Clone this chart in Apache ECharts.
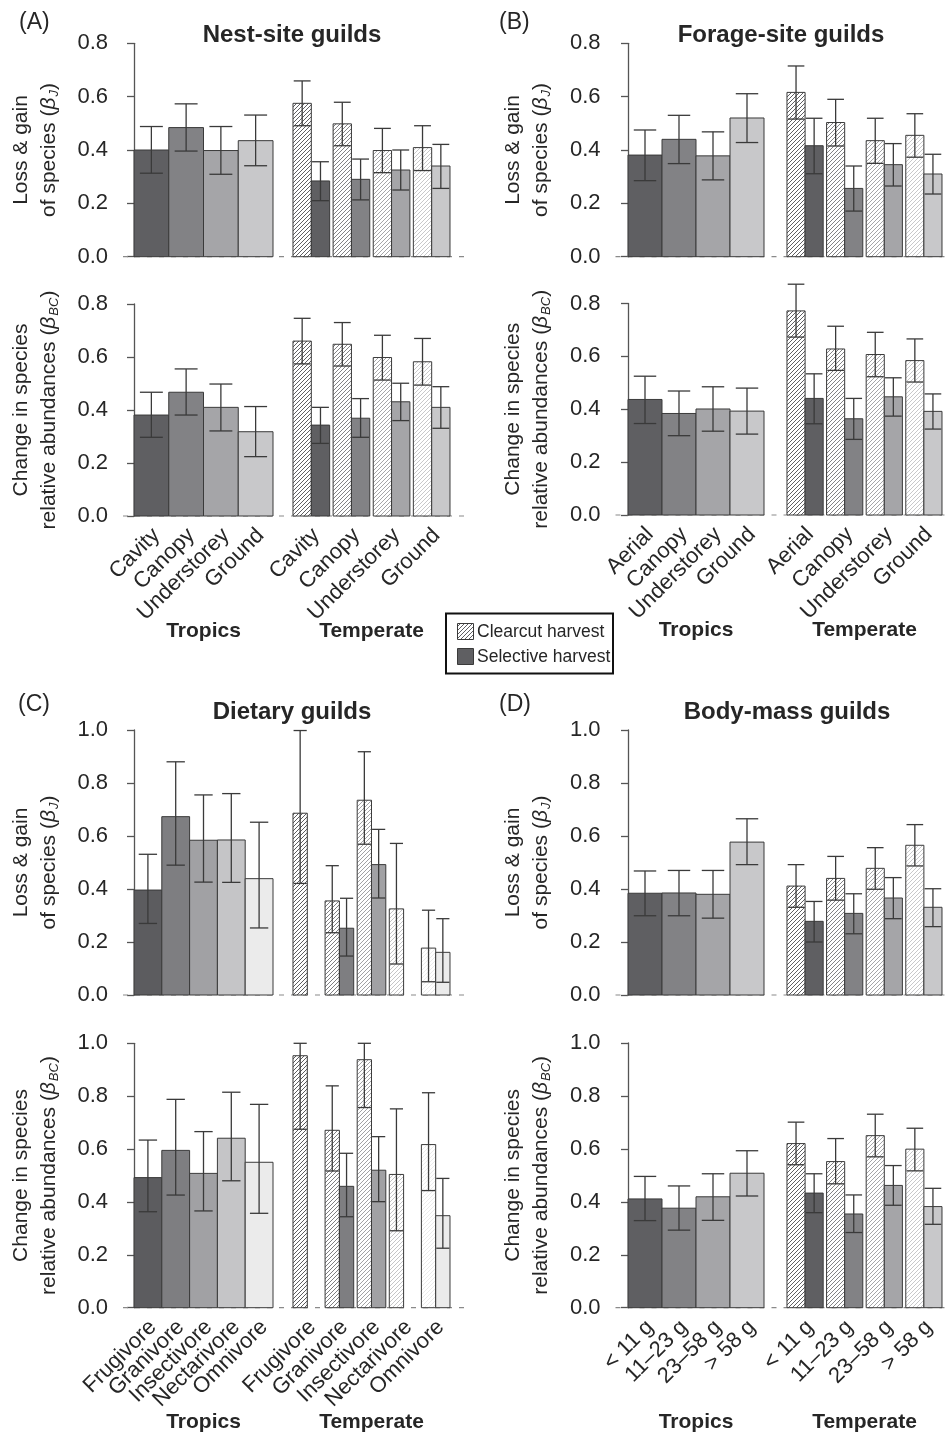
<!DOCTYPE html>
<html><head><meta charset="utf-8">
<script src="https://cdn.jsdelivr.net/npm/echarts@6/dist/echarts.min.js"></script>
<style>html,body{margin:0;padding:0;background:#fff}#c{width:947px;height:1439px}</style>
</head><body><div id="c"></div>
<script>
// ---------------- categories ----------------
const nestCats = ['Cavity', 'Canopy', 'Understorey', 'Ground'];
const forageCats = ['Aerial', 'Canopy', 'Understorey', 'Ground'];
const dietCats = ['Frugivore', 'Granivore', 'Insectivore', 'Nectarivore', 'Omnivore'];
const massCats = ['< 11 g', '11–23 g', '23–58 g', '> 58 g'];
const groupLabels = ['Tropics', 'Temperate'];
const legendLabels = ['Clearcut harvest', 'Selective harvest'];

// ---------------- values: [mean, lower, upper] ----------------
// (A) Nest-site guilds
const nestJTrop   = [[0.400,0.313,0.488],[0.484,0.396,0.573],[0.398,0.309,0.488],[0.435,0.341,0.531]];
const nestJClear  = [[0.575,0.491,0.659],[0.498,0.416,0.579],[0.398,0.315,0.481],[0.409,0.323,0.491]];
const nestJSel    = [[0.284,0.210,0.356],[0.290,0.213,0.366],[0.325,0.250,0.400],[0.340,0.256,0.421]];
const nestBCTrop  = [[0.381,0.297,0.467],[0.467,0.381,0.555],[0.410,0.321,0.498],[0.318,0.224,0.413]];
const nestBCClear = [[0.660,0.574,0.746],[0.648,0.566,0.730],[0.598,0.513,0.682],[0.582,0.494,0.670]];
const nestBCSel   = [[0.343,0.274,0.410],[0.369,0.297,0.443],[0.431,0.360,0.501],[0.410,0.331,0.488]];
// (B) Forage-site guilds
const forJTrop    = [[0.381,0.285,0.475],[0.440,0.349,0.530],[0.378,0.288,0.468],[0.520,0.428,0.611]];
const forJClear   = [[0.616,0.516,0.715],[0.503,0.415,0.590],[0.435,0.350,0.519],[0.455,0.373,0.536]];
const forJSel     = [[0.416,0.311,0.519],[0.256,0.171,0.340],[0.345,0.265,0.424],[0.310,0.235,0.384]];
const forBCTrop   = [[0.437,0.346,0.525],[0.384,0.300,0.469],[0.401,0.317,0.485],[0.393,0.306,0.480]];
const forBCClear  = [[0.772,0.673,0.873],[0.628,0.547,0.714],[0.607,0.523,0.691],[0.584,0.503,0.666]];
const forBCSel    = [[0.441,0.345,0.534],[0.364,0.286,0.441],[0.447,0.374,0.519],[0.392,0.325,0.458]];
// (C) Dietary guilds
const dietJTrop   = [[0.396,0.270,0.531],[0.673,0.490,0.880],[0.584,0.426,0.755],[0.585,0.425,0.760],[0.439,0.253,0.652]];
const dietJClear  = [[0.686,0.421,0.998],[0.355,0.235,0.488],[0.735,0.569,0.918],[0.325,0.117,0.572],[0.177,0.050,0.320]];
const dietJSel    = [null,[0.252,0.147,0.365],[0.492,0.366,0.625],null,[0.161,0.048,0.288]];
const dietBCTrop  = [[0.492,0.363,0.634],[0.595,0.426,0.788],[0.508,0.366,0.666],[0.641,0.480,0.815],[0.550,0.357,0.769]];
const dietBCClear = [[0.953,0.675,1.000],[0.671,0.517,0.839],[0.938,0.757,1.000],[0.504,0.291,0.752],[0.617,0.443,0.813]];
const dietBCSel   = [null,[0.459,0.344,0.584],[0.520,0.401,0.647],null,[0.348,0.225,0.489]];
// (D) Body-mass guilds
const massJTrop   = [[0.384,0.299,0.468],[0.385,0.299,0.470],[0.380,0.290,0.470],[0.577,0.492,0.665]];
const massJClear  = [[0.411,0.331,0.492],[0.440,0.358,0.523],[0.478,0.399,0.556],[0.565,0.487,0.643]];
const massJSel    = [[0.278,0.200,0.353],[0.308,0.231,0.382],[0.366,0.288,0.443],[0.331,0.258,0.401]];
const massBCTrop  = [[0.411,0.329,0.496],[0.376,0.293,0.460],[0.419,0.330,0.506],[0.508,0.422,0.593]];
const massBCClear = [[0.620,0.540,0.701],[0.552,0.468,0.639],[0.650,0.570,0.731],[0.599,0.517,0.678]];
const massBCSel   = [[0.433,0.359,0.506],[0.354,0.284,0.426],[0.462,0.387,0.537],[0.382,0.315,0.451]];

// ---------------- styles ----------------
const shades4 = ['#5f5f62', '#828285', '#a5a5a8', '#c8c8ca'];
const shades5 = ['#5c5c5f', '#7e7e81', '#a1a1a4', '#c5c5c7', '#ebebeb'];
const FONT = '"Liberation Sans", Arial, Helvetica, sans-serif';
const TXT = '#262626';
const EDGE = '#3a3a3a';

const patternCache = {};
function hatch(color) {
  if (patternCache[color]) return patternCache[color];
  const s = 4;
  const cv = document.createElement('canvas');
  cv.width = s; cv.height = s;
  const ctx = cv.getContext('2d');
  ctx.fillStyle = '#ffffff'; ctx.fillRect(0, 0, s, s);
  ctx.strokeStyle = color; ctx.lineWidth = 1;
  ctx.beginPath();
  ctx.moveTo(-1, s + 1); ctx.lineTo(s + 1, -1);
  ctx.moveTo(-1, 1); ctx.lineTo(1, -1);
  ctx.moveTo(s - 1, s + 1); ctx.lineTo(s + 1, s - 1);
  ctx.stroke();
  patternCache[color] = { image: cv, repeat: 'repeat' };
  return patternCache[color];
}

// column layouts (pixel frame for the grids)
const cols = {
  L: { axisX: 123, right: 465, unit: 34.75, tropL: 134, gap: 0.5755, wT: 4.518 },
  R: { axisX: 615.5, right: 947, unit: 34, tropL: 628, gap: 0.676, wT: 4.559 }
};

const subplots = [
  { col: 'L', top: 43.3, bottom: 256.7, ymax: 0.8, kind: 'J', trop: nestJTrop, clear: nestJClear, sel: nestJSel, cats: nestCats, shades: shades4, labels: false },
  { col: 'L', top: 304, bottom: 516, ymax: 0.8, kind: 'BC', trop: nestBCTrop, clear: nestBCClear, sel: nestBCSel, cats: nestCats, shades: shades4, labels: true },
  { col: 'R', top: 43.3, bottom: 256.7, ymax: 0.8, kind: 'J', trop: forJTrop, clear: forJClear, sel: forJSel, cats: forageCats, shades: shades4, labels: false },
  { col: 'R', top: 303.5, bottom: 515, ymax: 0.8, kind: 'BC', trop: forBCTrop, clear: forBCClear, sel: forBCSel, cats: forageCats, shades: shades4, labels: true },
  { col: 'L', top: 730, bottom: 995, ymax: 1.0, kind: 'J', trop: dietJTrop, clear: dietJClear, sel: dietJSel, cats: dietCats, shades: shades5, labels: false },
  { col: 'L', top: 1043.3, bottom: 1307.7, ymax: 1.0, kind: 'BC', trop: dietBCTrop, clear: dietBCClear, sel: dietBCSel, cats: dietCats, shades: shades5, labels: true },
  { col: 'R', top: 730, bottom: 995, ymax: 1.0, kind: 'J', trop: massJTrop, clear: massJClear, sel: massJSel, cats: massCats, shades: shades4, labels: false },
  { col: 'R', top: 1043, bottom: 1307.7, ymax: 1.0, kind: 'BC', trop: massBCTrop, clear: massBCClear, sel: massBCSel, cats: massCats, shades: shades4, labels: true }
];

const grids = [], xAxes = [], yAxes = [], series = [];

function barRenderer(items) {
  return function (params, api) {
    const it = items[params.dataIndex];
    const a = api.coord([api.value(0), api.value(2)]);
    const b = api.coord([api.value(1), 0]);
    const cx = (a[0] + b[0]) / 2;
    const yLo = api.coord([0, api.value(3)])[1];
    const yHi = api.coord([0, api.value(4)])[1];
    const half = (b[0] - a[0]) * it.capFrac;
    return {
      type: 'group',
      children: [
        { type: 'rect', shape: { x: a[0], y: a[1], width: b[0] - a[0], height: b[1] - a[1] },
          style: { fill: it.hatched ? hatch(it.color) : it.color, stroke: EDGE, lineWidth: 1 } },
        { type: 'line', shape: { x1: cx, y1: yLo, x2: cx, y2: yHi }, style: { stroke: EDGE, lineWidth: 1.3 } },
        { type: 'line', shape: { x1: cx - half, y1: yLo, x2: cx + half, y2: yLo }, style: { stroke: EDGE, lineWidth: 1.3 } },
        { type: 'line', shape: { x1: cx - half, y1: yHi, x2: cx + half, y2: yHi }, style: { stroke: EDGE, lineWidth: 1.3 } }
      ]
    };
  };
}

function labelRenderer(items) {
  return function (params, api) {
    const it = items[params.dataIndex];
    const p = api.coord([api.value(0), 0]);
    if (it.kind === 'cat') {
      return { type: 'text', x: p[0] + 5, y: p[1] + 16, rotation: Math.PI / 4,
        style: { text: it.text, align: 'right', verticalAlign: 'middle', fontSize: 22, fontFamily: FONT, fill: TXT } };
    }
    return { type: 'text', x: p[0], y: p[1] + 115,
      style: { text: it.text, align: 'center', verticalAlign: 'middle', fontSize: 21, fontWeight: 'bold', fontFamily: FONT, fill: TXT } };
  };
}

subplots.forEach((sp, k) => {
  const c = cols[sp.col];
  const xmin = (c.axisX - c.tropL) / c.unit;
  const xmax = (c.right - c.tropL) / c.unit;
  grids.push({ left: c.axisX, top: sp.top, width: c.right - c.axisX, height: sp.bottom - sp.top });
  xAxes.push({ gridIndex: k, type: 'value', min: xmin, max: xmax, show: false });
  const name = sp.kind === 'J' ? 'Loss & gain\nof species ({i|β}{s|J})' : 'Change in species\nrelative abundances ({i|β}{s|BC})';
  yAxes.push({
    gridIndex: k, type: 'value', min: 0, max: sp.ymax, interval: 0.2,
    axisLine: { show: true, lineStyle: { color: '#555', width: 1.3 } },
    axisTick: { show: true, length: 7, lineStyle: { color: '#555', width: 1.3 } },
    axisLabel: { fontSize: 22, fontFamily: FONT, color: TXT, margin: 15, formatter: v => v.toFixed(1) },
    splitLine: { show: false },
    name: name, nameLocation: 'middle', nameGap: 60,
    nameTextStyle: {
      fontSize: 21, fontFamily: FONT, color: TXT, lineHeight: 28,
      rich: {
        i: { fontSize: 21, fontStyle: 'italic', fontFamily: FONT, color: TXT },
        s: { fontSize: 13, fontStyle: 'italic', fontFamily: FONT, color: TXT, padding: [10, 0, 0, 1] }
      }
    }
  });

  // baseline (dashed)
  series.push({
    type: 'custom', xAxisIndex: k, yAxisIndex: k, z: 1, silent: true, clip: false,
    data: [[xmin, xmax]],
    renderItem: (params, api) => {
      const p0 = api.coord([api.value(0), 0]);
      const p1 = api.coord([api.value(1), 0]);
      return { type: 'line', shape: { x1: p0[0], y1: p0[1], x2: p1[0], y2: p1[1] },
        style: { stroke: '#8a8a8a', lineWidth: 1.2, lineDash: [5, 7] } };
    }
  });

  // bars
  const items = [];
  const nT = sp.trop.length;
  const bw = 4 / nT;
  sp.trop.forEach((d, i) => {
    if (!d) return;
    items.push({ x0: i * bw, x1: (i + 1) * bw, d: d, color: sp.shades[i], hatched: false, capFrac: 0.33 });
  });
  const nP = sp.clear.length;
  const g2 = 0.1;
  const pw = (c.wT - (nP - 1) * g2) / nP;
  const start = 4 + c.gap;
  for (let i = 0; i < nP; i++) {
    const px0 = start + i * (pw + g2);
    if (sp.clear[i]) items.push({ x0: px0, x1: px0 + pw / 2, d: sp.clear[i], color: sp.shades[i], hatched: true, capFrac: 0.46 });
    if (sp.sel[i]) items.push({ x0: px0 + pw / 2, x1: px0 + pw, d: sp.sel[i], color: sp.shades[i], hatched: false, capFrac: 0.46 });
  }
  series.push({
    type: 'custom', xAxisIndex: k, yAxisIndex: k, z: 3, silent: true, clip: false,
    data: items.map(it => [it.x0, it.x1, it.d[0], it.d[1], it.d[2]]),
    renderItem: barRenderer(items)
  });

  if (sp.labels) {
    const lab = [];
    sp.cats.forEach((t, i) => lab.push({ x: (i + 0.5) * bw, text: t, kind: 'cat' }));
    sp.cats.forEach((t, i) => lab.push({ x: start + i * (pw + g2) + pw / 2, text: t, kind: 'cat' }));
    lab.push({ x: 2, text: groupLabels[0], kind: 'group' });
    lab.push({ x: start + c.wT / 2, text: groupLabels[1], kind: 'group' });
    series.push({
      type: 'custom', xAxisIndex: k, yAxisIndex: k, z: 4, silent: true, clip: false,
      data: lab.map(l => [l.x, 0]),
      renderItem: labelRenderer(lab)
    });
  }
});

const T = (text, x, y, size, bold, align) => ({
  type: 'text', x: x, y: y, silent: true,
  style: { text: text, fontSize: size, fontWeight: bold ? 'bold' : 'normal', fontFamily: FONT, fill: TXT,
    align: align || 'left', verticalAlign: 'middle' }
});

const graphic = [
  T('(A)', 19, 23, 23, false), T('(B)', 499, 23, 23, false),
  T('(C)', 18, 705, 23, false), T('(D)', 499, 705, 23, false),
  T('Nest-site guilds', 292, 35, 24, true, 'center'),
  T('Forage-site guilds', 781, 35, 24, true, 'center'),
  T('Dietary guilds', 292, 712, 24, true, 'center'),
  T('Body-mass guilds', 787, 712, 24, true, 'center'),
  { type: 'rect', shape: { x: 446, y: 613.5, width: 167, height: 60 }, silent: true,
    style: { fill: '#fff', stroke: '#111', lineWidth: 2 } },
  { type: 'rect', shape: { x: 457.5, y: 623.5, width: 16, height: 16 }, silent: true,
    style: { fill: hatch(shades4[0]), stroke: EDGE, lineWidth: 1 } },
  { type: 'rect', shape: { x: 457.5, y: 648.5, width: 16, height: 16 }, silent: true,
    style: { fill: shades4[0], stroke: EDGE, lineWidth: 1 } },
  T(legendLabels[0], 477, 632, 17.5, false),
  T(legendLabels[1], 477, 657, 17.5, false)
];

const chart = echarts.init(document.getElementById('c'), null, { renderer: 'canvas', width: 947, height: 1439 });
chart.setOption({
  animation: false,
  backgroundColor: '#ffffff',
  grid: grids, xAxis: xAxes, yAxis: yAxes, series: series, graphic: graphic
});
</script>
</body></html>
